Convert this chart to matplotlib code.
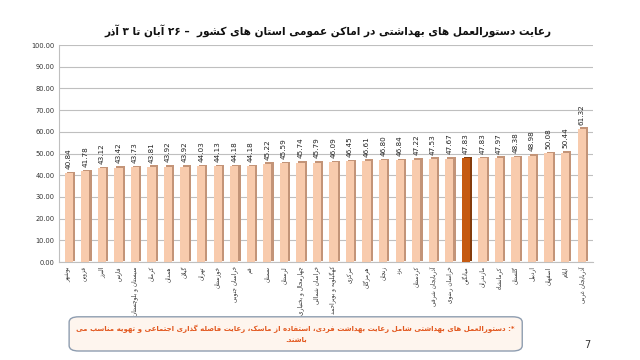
import matplotlib
matplotlib.use("Agg")
import matplotlib.pyplot as plt
from matplotlib.patches import FancyBboxPatch
import numpy as np

# Data
provinces = [
    "بوشهر", "قزوین", "البرز", "فارس", "سیستان و بلوچستان", "کرمان", "همدان",
    "گیلان", "تهران", "خوزستان", "خراسان جنوبی", "قم", "سمنان", "لرستان",
    "چهارمحال و بختیاری", "خراسان شمالی", "کهگیلویه و بویراحمد", "مرکزی",
    "هرمزگان", "زنجان", "یزد", "کردستان", "آذربایجان شرقی", "خراسان رضوی",
    "میانگین", "مازندران", "کرمانشاه", "گلستان", "اردبیل", "اصفهان", "ایلام",
    "آذربایجان غربی",
]
values = [
    40.84, 41.78, 43.12, 43.42, 43.73, 43.81, 43.92, 43.92, 44.03, 44.13,
    44.18, 44.18, 45.22, 45.59, 45.74, 45.79, 46.09, 46.45, 46.61, 46.80,
    46.84, 47.22, 47.53, 47.67, 47.83, 47.83, 47.97, 48.38, 48.98, 50.08,
    50.44, 61.32,
]
highlight = "میانگین"
y_ticks = [0, 10, 20, 30, 40, 50, 60, 70, 80, 90, 100]

title = "رعایت دستورالعمل های بهداشتی در اماکن عمومی استان های کشور  – ۲۶ آبان تا ۳ آذر"
note = ("*: دستورالعمل های بهداشتی شامل رعایت بهداشت فردی، استفاده از ماسک، "
        "رعایت فاصله گذاری اجتماعی و تهویه مناسب می\nباشند.")

# Minimal Persian shaping: (isolated, final, initial, medial)
FORMS = {
    "ب": (0xFE8F, 0xFE90, 0xFE91, 0xFE92), "پ": (0xFB56, 0xFB57, 0xFB58, 0xFB59),
    "ت": (0xFE95, 0xFE96, 0xFE97, 0xFE98), "ث": (0xFE99, 0xFE9A, 0xFE9B, 0xFE9C),
    "ج": (0xFE9D, 0xFE9E, 0xFE9F, 0xFEA0), "چ": (0xFB7A, 0xFB7B, 0xFB7C, 0xFB7D),
    "ح": (0xFEA1, 0xFEA2, 0xFEA3, 0xFEA4), "خ": (0xFEA5, 0xFEA6, 0xFEA7, 0xFEA8),
    "س": (0xFEB1, 0xFEB2, 0xFEB3, 0xFEB4), "ش": (0xFEB5, 0xFEB6, 0xFEB7, 0xFEB8),
    "ص": (0xFEB9, 0xFEBA, 0xFEBB, 0xFEBC), "ض": (0xFEBD, 0xFEBE, 0xFEBF, 0xFEC0),
    "ط": (0xFEC1, 0xFEC2, 0xFEC3, 0xFEC4), "ظ": (0xFEC5, 0xFEC6, 0xFEC7, 0xFEC8),
    "ع": (0xFEC9, 0xFECA, 0xFECB, 0xFECC), "غ": (0xFECD, 0xFECE, 0xFECF, 0xFED0),
    "ف": (0xFED1, 0xFED2, 0xFED3, 0xFED4), "ق": (0xFED5, 0xFED6, 0xFED7, 0xFED8),
    "ک": (0xFB8E, 0xFB8F, 0xFB90, 0xFB91), "گ": (0xFB92, 0xFB93, 0xFB94, 0xFB95),
    "ل": (0xFEDD, 0xFEDE, 0xFEDF, 0xFEE0), "م": (0xFEE1, 0xFEE2, 0xFEE3, 0xFEE4),
    "ن": (0xFEE5, 0xFEE6, 0xFEE7, 0xFEE8), "ه": (0xFEE9, 0xFEEA, 0xFEEB, 0xFEEC),
    "ی": (0xFBFC, 0xFBFD, 0xFBFE, 0xFBFF), "ئ": (0xFE89, 0xFE8A, 0xFE8B, 0xFE8C),
    "ا": (0xFE8D, 0xFE8E, None, None), "آ": (0xFE81, 0xFE82, None, None),
    "د": (0xFEA9, 0xFEAA, None, None), "ذ": (0xFEAB, 0xFEAC, None, None),
    "ر": (0xFEAD, 0xFEAE, None, None), "ز": (0xFEAF, 0xFEB0, None, None),
    "ژ": (0xFB8A, 0xFB8B, None, None), "و": (0xFEED, 0xFEEE, None, None),
}


def shape_line(s):
    out = []
    chars = list(s)
    i = 0
    while i < len(chars):
        c = chars[i]
        if c not in FORMS:
            if c != "\u200c":
                out.append(c)
            i += 1
            continue
        prev = chars[i - 1] if i > 0 else ""
        joins_prev = prev in FORMS and FORMS[prev][2] is not None
        # lam-alef ligature
        if c == "ل" and i + 1 < len(chars) and chars[i + 1] in ("ا", "آ"):
            base = (0xFEFB, 0xFEFC) if chars[i + 1] == "ا" else (0xFEF5, 0xFEF6)
            out.append(chr(base[1] if joins_prev else base[0]))
            i += 2
            continue
        nxt = chars[i + 1] if i + 1 < len(chars) else ""
        joins_next = FORMS[c][2] is not None and nxt in FORMS
        f = FORMS[c]
        if joins_prev and joins_next:
            out.append(chr(f[3]))
        elif joins_prev:
            out.append(chr(f[1]))
        elif joins_next:
            out.append(chr(f[2]))
        else:
            out.append(chr(f[0]))
        i += 1
    # right-to-left: reverse, then restore digit runs
    rev = "".join(out)[::-1]
    res, run = [], []
    for ch in rev:
        if ch.isdigit():
            run.append(ch)
        else:
            res.extend(run[::-1])
            run = []
            res.append(ch)
    res.extend(run[::-1])
    return "".join(res)


def fa(s):
    return "\n".join(shape_line(line) for line in s.split("\n"))


plt.rcParams["font.family"] = ["DejaVu Sans"]

fig = plt.figure(figsize=(6.4, 3.6), dpi=100)
ax = fig.add_axes([0.092, 0.272, 0.835, 0.603])

x = np.arange(len(values))
face = ["#C55A11" if p == highlight else "#F8CBAD" for p in provinces]
side = ["#843C0C" if p == highlight else "#C39478" for p in provinces]

# back face for a simple 3D look
ax.bar(x + 0.13, np.array(values), width=0.5, bottom=0.7, color=side, zorder=2)
ax.bar(x, values, width=0.5, color=face, zorder=3)

for xi, v in zip(x, values):
    ax.text(xi, v + 2.0, f"{v:.2f}", rotation=90, ha="center", va="bottom",
            fontsize=5.2, color="#222222", zorder=4)

ax.set_ylim(0, 100)
ax.set_xlim(-0.6, len(values) - 0.3)
ax.set_yticks(y_ticks)
ax.set_yticklabels([f"{t:.2f}" for t in y_ticks], fontsize=4.8, color="#333333")
ax.set_xticks(x)
ax.set_xticklabels([fa(p) for p in provinces], rotation=90, fontsize=4.2,
                   color="#333333")
ax.tick_params(axis="both", length=0, pad=3)
ax.grid(axis="y", color="#BFBFBF", linewidth=0.8, zorder=0)
ax.set_axisbelow(True)
for s in ["top", "right"]:
    ax.spines[s].set_visible(False)
ax.spines["left"].set_color("#BFBFBF")
ax.spines["bottom"].set_color("#BFBFBF")

fig.text(0.513, 0.915, fa(title), ha="center", va="center", fontsize=7.6,
         fontweight="bold", color="#111111")

box = FancyBboxPatch((0.108, 0.025), 0.708, 0.095,
                     boxstyle="round,pad=0,rounding_size=0.015",
                     transform=fig.transFigure, facecolor="#FEF5EE",
                     edgecolor="#8E9DB0", linewidth=1.0)
fig.patches.append(box)
fig.text(0.462, 0.073, fa(note), ha="center", va="center", fontsize=5.0,
         fontweight="bold", color="#E2571E", linespacing=1.6)

fig.text(0.918, 0.043, "7", ha="center", va="center", fontsize=7, color="#333333")

fig.savefig("out.png", dpi=100)
plt.close(fig)
